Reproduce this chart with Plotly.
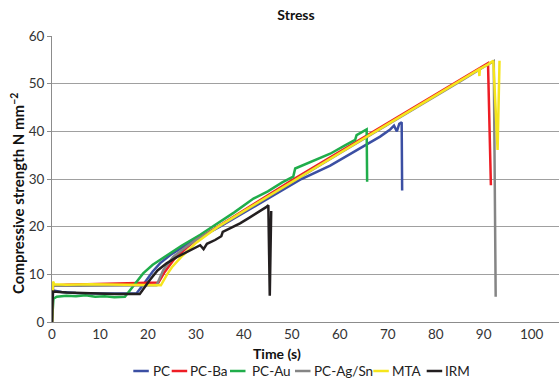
import plotly.graph_objects as go

# ---- data (time in s, compressive strength in N mm^-2) ----
pc_t = [0, 0.2, 2, 5, 10, 15, 17.6, 19.0, 19.7, 21, 22.5, 25, 27.4, 30, 35, 40, 44, 48, 52, 58, 62, 65, 68.4, 70.5, 71.3, 71.9, 72.4, 72.9, 73.0]
pc_s = [0, 6.6, 6.3, 6.1, 6.0, 5.9, 6.0, 7.8, 8.8, 10.6, 12.3, 14.3, 15.8, 17.3, 20.0, 22.9, 25.3, 27.6, 30.0, 32.8, 35.2, 37.0, 38.9, 40.4, 41.2, 40.0, 41.6, 41.9, 27.6]

ba_t = [0, 0.2, 3, 8, 13, 18, 22.2, 23.5, 25.5, 28, 30, 35, 40, 45, 50, 55, 60, 65, 70, 75, 80, 85, 88, 90.9, 91.5]
ba_s = [0, 7.6, 7.8, 7.9, 8.1, 8.2, 8.3, 10.5, 13.2, 15.5, 17.2, 20.3, 23.5, 26.6, 29.7, 32.7, 35.7, 38.7, 41.7, 44.7, 47.7, 50.8, 52.6, 54.3, 28.7]

au_t = [0, 0.3, 1, 3, 5, 7, 9, 11, 13, 15.2, 17, 19, 21, 23.9, 27, 30.9, 35, 38, 42, 45, 48, 50.3, 50.7, 54, 58, 61, 63.2, 63.5, 65.6, 65.7]
au_s = [0, 4.9, 5.3, 5.5, 5.4, 5.6, 5.3, 5.4, 5.2, 5.3, 7.6, 10.2, 12.0, 14.0, 16.0, 18.3, 21.0, 23.0, 25.9, 27.4, 29.3, 30.5, 32.2, 33.6, 35.3, 37.0, 38.2, 39.2, 40.4, 29.4]

agsn_t = [0, 0.2, 5, 12, 18, 21.8, 23.2, 25.3, 28, 30, 35, 40, 45, 50, 55, 60, 65, 70, 75, 80, 85, 90, 92.1, 92.5]
agsn_s = [0, 7.6, 7.6, 7.7, 7.7, 7.7, 10.9, 13.7, 15.8, 17.2, 20.1, 23.2, 26.3, 29.4, 32.4, 35.4, 38.4, 41.3, 44.3, 47.3, 50.4, 53.5, 54.7, 5.3]

mta_t = [0, 0.2, 0.5, 3, 8, 14, 19, 22.7, 24.0, 25, 27, 30, 34.6, 40, 45, 50, 55, 60, 65, 70, 75, 80, 85, 89.0, 89.1, 89.2, 91, 92.0, 92.9, 93.3]
mta_s = [0, 8.5, 7.9, 7.8, 7.9, 7.8, 7.8, 7.7, 10.0, 11.5, 13.7, 16.6, 20.0, 23.3, 26.4, 29.5, 32.5, 35.5, 38.5, 41.5, 44.5, 47.5, 50.6, 53.0, 51.6, 53.1, 54.1, 54.8, 36.1, 54.8]

irm_t = [0, 0.2, 3, 8, 13, 18.3, 19.5, 20.4, 22, 23.9, 26, 28.1, 30.9, 31.6, 32.3, 34, 35.3, 35.6, 37, 39.2, 41, 43, 44.8, 45.1, 45.4, 45.7]
irm_s = [0, 6.4, 6.2, 6.0, 5.9, 5.9, 7.6, 8.8, 10.8, 12.3, 13.6, 14.7, 16.1, 15.3, 16.4, 17.2, 18.0, 18.9, 19.6, 20.7, 21.8, 23.0, 24.2, 24.5, 5.5, 23.3]

names = ["PC", "PC-Ba", "PC-Au", "PC-Ag/Sn", "MTA", "IRM"]
colors = ["#3b4fa3", "#ee1d25", "#20ad4b", "#858585", "#f5e51c", "#231f20"]
series = [(pc_t, pc_s), (ba_t, ba_s), (au_t, au_s), (agsn_t, agsn_s), (mta_t, mta_s), (irm_t, irm_s)]

x_ticks = list(range(0, 101, 10))
y_ticks = list(range(0, 61, 10))

FONT = "Lato"
W, H = 560, 382
L, R, T, B = 52, 1, 36, 60
pw, ph = W - L - R, H - T - B

def px_x(p):
    return (p - L) / pw

def px_y(p):
    return (H - B - p) / ph

fig = go.Figure()
for (t, s), n, c in zip(series, names, colors):
    fig.add_trace(go.Scatter(x=t, y=s, mode="lines", name=n,
                             line=dict(color=c, width=2.5), showlegend=False))

# manual legend (short line samples like the original)
leg_items = [(133.3, 150.7), (171.7, 188.3), (230.0, 250.0), (295.0, 311.7), (373.3, 390.0), (426.7, 443.3)]
ly = px_y(371)
for (lx, tx), n, c in zip(leg_items, names, colors):
    fig.add_shape(type="line", xref="paper", yref="paper",
                  x0=px_x(lx), x1=px_x(lx + 15.5), y0=ly, y1=ly,
                  line=dict(color=c, width=2.5))
    fig.add_annotation(text=n, xref="paper", yref="paper", x=px_x(tx), y=ly,
                       xanchor="left", yanchor="middle", showarrow=False,
                       font=dict(family=FONT, size=13.5, color="#222"))

fig.add_annotation(text="<b>Time (s)</b>", xref="paper", yref="paper",
                   x=px_x(277), y=px_y(353), xanchor="center", yanchor="middle",
                   showarrow=False, font=dict(family=FONT, size=14, color="#111"))
fig.add_annotation(text="<b>Compressive strength N mm<sup>−2</sup></b>", xref="paper", yref="paper",
                   x=px_x(17), y=px_y(194), xanchor="center", yanchor="middle",
                   textangle=-90, showarrow=False, font=dict(family=FONT, size=15, color="#111"))

fig.update_layout(
    width=W, height=H,
    margin=dict(l=L, r=R, t=T, b=B),
    paper_bgcolor="white", plot_bgcolor="white",
    title=dict(text="<b>Stress</b>", x=296 / W, y=1 - 15 / H, xref="container", yref="container",
               xanchor="center", yanchor="middle", font=dict(family=FONT, size=14, color="#111")),
    font=dict(family=FONT, size=13, color="#333"),
    xaxis=dict(range=[0, 105.7], tickvals=x_ticks, showgrid=False, zeroline=False,
               showline=True, linecolor="#8c8c8c", linewidth=1, ticks="",
               tickfont=dict(family=FONT, size=13.5, color="#333")),
    yaxis=dict(range=[0, 60], tickvals=y_ticks, showgrid=True, gridcolor="#a0a0a0", gridwidth=1,
               zeroline=False, showline=True, linecolor="#8c8c8c", linewidth=1,
               ticks="outside", ticklen=4, tickcolor="#8c8c8c",
               tickfont=dict(family=FONT, size=13.5, color="#333")),
)

fig.write_html("out.html", config={"displayModeBar": False},
               post_script="document.body.style.margin='0';document.body.style.overflow='hidden';")
